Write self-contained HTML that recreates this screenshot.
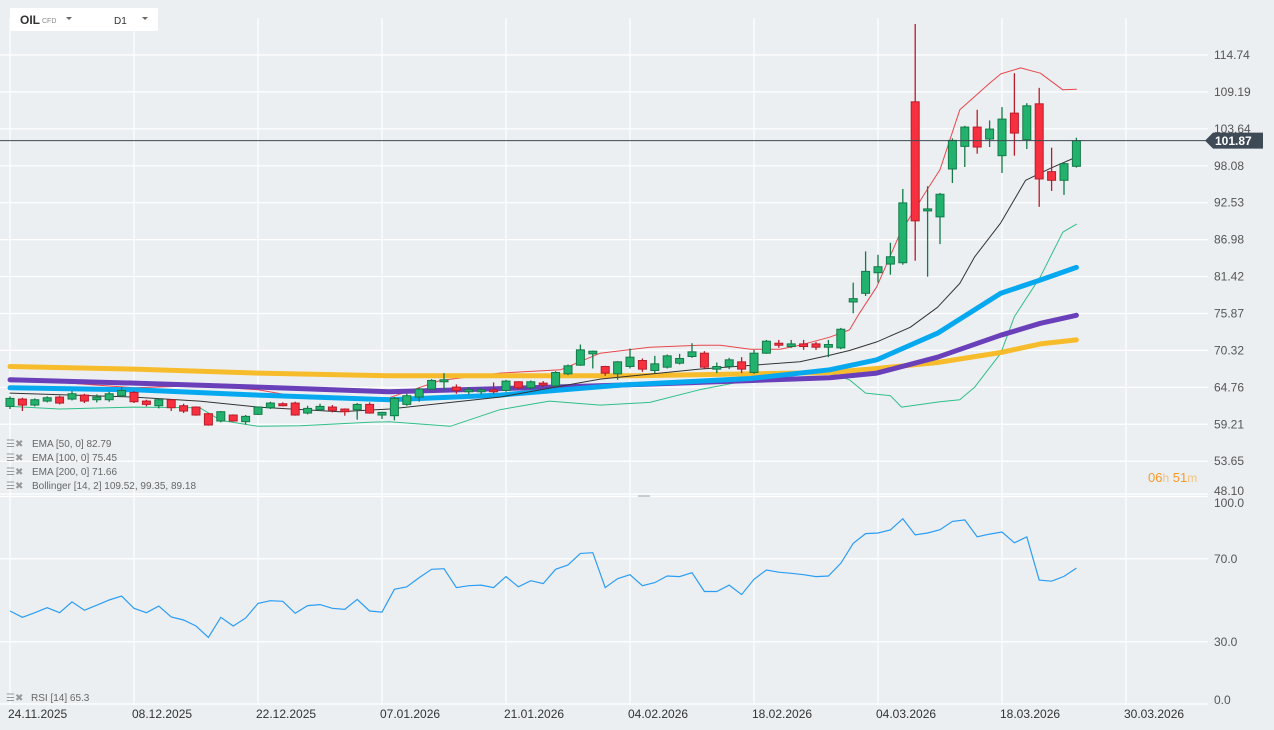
<!DOCTYPE html>
<html><head><meta charset="utf-8"><style>
html,body{margin:0;padding:0;background:#eceff2;width:1274px;height:730px;overflow:hidden;font-family:"Liberation Sans",sans-serif}
svg{display:block}
</style></head><body>
<svg id="chart" width="1274" height="730" xmlns="http://www.w3.org/2000/svg">
<rect width="1274" height="730" fill="#eceff2"/>
<g id="grid"></g>
<g id="lines"></g>
<g id="candles"></g>
<g id="rsi"></g>
<g id="axes"></g>
<g>
<rect x="10" y="8" width="148" height="23" rx="2" fill="#fff"/>
<text x="20" y="24" font-size="12" font-weight="bold" fill="#333">OIL</text>
<text x="42" y="23" font-size="7" fill="#888">CFD</text>
<path d="M66 17 l6 0 l-3 3z" fill="#666"/>
<text x="114" y="24" font-size="10" fill="#333">D1</text>
<path d="M142 17 l6 0 l-3 3z" fill="#666"/>
</g>
<g font-size="10" fill="#666">
<text x="6" y="447" fill="#999">☰✖</text><text x="32" y="447">EMA  [50,  0] 82.79</text>
<text x="6" y="461" fill="#999">☰✖</text><text x="32" y="461">EMA  [100,  0] 75.45</text>
<text x="6" y="475" fill="#999">☰✖</text><text x="32" y="475">EMA  [200,  0] 71.66</text>
<text x="6" y="489" fill="#999">☰✖</text><text x="32" y="489">Bollinger   [14,  2] 109.52,  99.35,  89.18</text>
<text x="6" y="701" fill="#999">☰✖</text><text x="31" y="701">RSI  [14]  65.3</text>
</g>
<text x="1148" y="482" font-size="13" fill="#f59a23">06<tspan fill="#f7c27a" font-size="12">h</tspan> 51<tspan fill="#f7c27a" font-size="12">m</tspan></text>
<rect x="638" y="495" width="12" height="2" fill="#c8ccd0"/>
</svg>
<script>
const candleOpen=[61.9,63.0,62.1,62.7,63.3,63.0,63.6,62.9,62.9,63.5,64.0,62.7,62.0,62.9,62.0,61.8,60.8,59.7,60.6,59.6,60.7,61.7,62.3,62.4,60.9,61.4,61.8,61.5,61.4,62.2,60.6,60.5,62.2,63.3,64.5,65.6,64.8,64.2,64.2,64.4,64.3,65.6,64.7,65.4,65.0,66.8,68.1,69.8,67.9,66.8,67.9,68.8,67.3,67.8,68.4,69.4,69.9,67.5,67.9,68.6,67.0,69.9,71.4,70.9,71.3,71.3,70.8,70.7,77.6,78.9,82.0,83.3,83.5,107.7,91.3,90.4,97.6,101.0,103.9,102.1,99.6,106.0,102.0,107.4,97.2,95.9,98.0];
const candleClose=[63.1,62.1,62.9,63.2,62.4,63.8,62.7,63.3,63.8,64.3,62.6,62.2,62.9,61.7,61.2,60.6,59.1,61.1,59.7,60.4,61.8,62.4,62.0,60.6,61.6,61.9,61.3,61.1,62.2,60.9,61.0,63.1,63.5,64.5,65.8,65.9,64.3,64.4,64.4,64.2,65.7,64.7,65.6,65.1,67.0,68.0,70.4,70.2,66.9,68.6,69.3,67.5,68.3,69.5,69.1,70.1,67.8,67.9,68.9,67.5,69.9,71.7,71.1,71.3,70.9,70.8,71.2,73.5,78.1,82.2,82.9,84.4,92.5,89.8,91.6,93.8,101.9,103.9,100.9,103.6,105.1,103.0,107.1,96.1,95.9,98.4,101.87];
const candleHigh=[63.4,63.2,63.1,63.4,63.5,64.2,63.8,63.7,64.1,64.8,64.2,62.9,63.1,63.0,62.3,61.9,60.9,61.2,60.7,60.6,61.9,62.6,62.5,62.6,62.0,62.3,62.1,61.6,62.4,62.5,61.1,63.3,63.8,64.7,66.0,66.9,65.2,64.8,64.7,65.5,65.9,65.7,65.8,65.7,67.2,68.2,71.2,70.3,68.0,68.7,70.6,69.1,69.5,69.7,69.8,71.4,70.2,68.5,69.2,69.3,70.4,71.9,71.9,71.9,71.9,71.6,71.9,73.7,80.5,85.2,84.7,86.5,94.6,119.4,95.0,94.0,102.2,104.1,106.5,104.9,106.9,112.0,107.5,109.8,100.8,98.6,102.3];
const candleLow=[61.5,61.2,61.9,62.5,62.2,62.8,62.4,62.5,62.6,63.3,62.4,61.9,61.6,61.2,60.9,60.5,59.0,59.5,59.6,59.2,60.6,61.5,61.9,60.5,60.7,61.2,61.0,60.5,59.9,60.8,60.0,59.8,62.0,62.6,64.2,64.3,63.8,63.7,63.7,63.8,64.1,64.5,64.5,64.8,64.6,66.6,68.0,67.6,66.5,65.9,67.6,67.1,66.9,67.6,68.2,69.2,67.6,66.9,67.5,66.9,66.8,69.8,70.7,70.7,70.4,70.4,69.3,70.5,75.9,78.5,80.5,81.7,83.2,83.8,81.4,86.3,95.5,97.9,99.9,100.9,97.0,99.6,100.6,91.9,94.3,93.7,97.8];
const rsiValues=[44.8,41.8,44.0,46.4,44.0,49.2,45.2,47.6,50.1,52.0,46.1,44.0,47.2,42.0,40.5,37.6,32.1,41.8,37.6,41.4,48.5,49.8,49.5,43.7,47.4,47.9,46.1,45.6,50.4,44.8,44.3,55.3,56.5,60.9,64.9,65.2,56.1,57.0,57.3,56.1,61.4,56.5,59.4,58.0,64.9,67.0,72.6,72.9,56.1,60.4,62.3,57.0,58.5,61.7,61.4,63.3,54.2,54.2,57.3,52.7,60.1,64.6,63.5,63.0,62.3,61.4,61.7,67.8,77.4,82.1,82.4,83.9,89.3,81.5,82.4,84.0,88.0,88.7,80.6,81.9,82.9,77.7,80.6,59.7,59.2,61.5,65.5];
const ema200Idx=[0,10,20,30.6,50,66.1,69.9,74.8,79.9,83.1,86];
const ema200Val=[67.9,67.5,66.9,66.5,66.5,67.0,67.6,68.5,70.0,71.3,71.9];
const ema100Idx=[0,10,20,30.6,49.2,66.1,69.9,74.8,79.9,83.1,86];
const ema100Val=[65.9,65.4,64.8,64.1,65.1,66.2,66.9,69.3,72.6,74.4,75.6];
const ema50Idx=[0,10,20,30.6,39.5,49.2,59.7,66.1,69.9,74.8,79.9,83.1,86];
const ema50Val=[64.7,64.4,63.6,62.9,63.6,65.1,66.1,67.4,68.9,72.9,78.9,80.9,82.8];
const bbMidIdx=[0,10,15.3,20,26.6,30.6,39.5,47.6,55.6,63.7,66.1,67.7,69.9,72.6,74.8,76.6,77.8,79.9,81.9,83.9,86];
const bbMidVal=[63.9,63.3,62.7,61.8,61.1,61.5,63.3,66.0,67.5,68.6,69.6,70.3,71.6,73.8,76.8,80.4,84.4,89.5,95.9,97.7,99.4];
const bbUpIdx=[0,4,10,15.3,20,23.4,30.6,34.7,39.5,44.4,47.6,51.6,55.6,57.3,59.7,62.1,63.7,66.1,67.7,68.5,69.9,71.8,73.8,75,76.6,79,79.9,81.5,83.1,84.9,86];
const bbUpVal=[65.6,65.5,64.7,65.0,64.4,63.3,63.2,65.8,66.9,67.4,69.9,70.8,71.1,71.1,70.5,70.5,71.1,72.3,73.4,75.9,79.9,88.0,94.0,97.5,106.5,110.5,111.9,112.8,112.0,109.5,109.6];
const bbLowIdx=[0,4,10,15.3,17,20,23.4,29,30.6,35.5,39.5,43.5,47.6,51.6,55.6,59.7,63.7,66.1,67.7,69,71,71.9,75,76.6,77.8,79.9,81,83.1,84.9,86];
const bbLowVal=[61.9,61.5,61.8,61.7,59.8,58.9,59.0,59.5,59.6,58.9,61.4,62.7,62.1,62.5,64.4,65.9,66.8,66.9,65.9,63.9,63.5,61.8,62.6,62.9,64.8,69.9,75.4,81.4,88.1,89.3];
const priceTicks=[114.74,109.19,103.64,98.08,92.53,86.98,81.42,75.87,70.32,64.76,59.21,53.65,48.10];
const rsiTicks=[100,70,30,0];
const dateLabels=["24.11.2025","08.12.2025","22.12.2025","07.01.2026","21.01.2026","04.02.2026","18.02.2026","04.03.2026","18.03.2026","30.03.2026"];
const dateIdx=[0,10,20,30,40,50,60,70,80,90];
const lastPrice=101.87;

const NS="http://www.w3.org/2000/svg";
const xOf=i=>10+i*12.4;
const yP=p=>55+(114.74-p)*6.65;
const yR=v=>704-v*2.075;
function mk(tag,attrs,parent){const e=document.createElementNS(NS,tag);for(const k in attrs)e.setAttribute(k,attrs[k]);parent.appendChild(e);return e;}
const grid=document.getElementById('grid'),lines=document.getElementById('lines'),cg=document.getElementById('candles'),rg=document.getElementById('rsi'),ax=document.getElementById('axes');

priceTicks.forEach(p=>{const y=Math.min(yP(p),494);const l=mk('line',{x1:0,x2:1208,y1:y,y2:y,stroke:'#fff','stroke-width':1.2},grid);


const t=mk('text',{x:1214,y:(p===48.10?495:y+4),'font-size':12,fill:'#555'},ax);t.textContent=p.toFixed(2);

});
rsiTicks.forEach(v=>{const y=yR(v);const l=mk('line',{x1:0,x2:1208,y1:y,y2:y,stroke:'#fff','stroke-width':1.2},grid);


const t=mk('text',{x:1214,y:(v===100?507:v===0?704:y+4),'font-size':12,fill:'#555'},ax);t.textContent=v.toFixed(1);

});
dateIdx.forEach((d,k)=>{const x=xOf(d);const l=mk('line',{x1:x,x2:x,y1:18,y2:705,stroke:'#fff','stroke-width':1.2},grid);


const t=mk('text',{x:x-2,y:718,'font-size':12,fill:'#333'},ax);t.textContent=dateLabels[k];

});

function poly(idx,val,color,w,name){const pts=idx.map((i,k)=>xOf(i).toFixed(1)+','+yP(val[k]).toFixed(1)).join(' ');
const e=mk('polyline',{points:pts,fill:'none',stroke:color,'stroke-width':w,'stroke-linejoin':'round','stroke-linecap':'round'},lines);

}
poly(bbLowIdx,bbLowVal,'#2fbf86',1,'bollinger-lower');
poly(bbUpIdx,bbUpVal,'#e8474c',1,'bollinger-upper');
poly(ema200Idx,ema200Val,'#f7bc2c',5,'ema-200-line');
poly(ema100Idx,ema100Val,'#6a3fba',5,'ema-100-line');
poly(ema50Idx,ema50Val,'#06a9f0',5,'ema-50-line');
poly(bbMidIdx,bbMidVal,'#333',1,'bollinger-middle');

candleOpen.forEach((o,i)=>{const c=candleClose[i],up=c>=o,x=xOf(i);
const fill=up?'#23b26e':'#f7303f',bd=up?'#137a48':'#b81d2b';
const w=mk('line',{x1:x,x2:x,y1:yP(candleHigh[i]),y2:yP(candleLow[i]),stroke:bd,'stroke-width':1.3},cg);


const top=yP(Math.max(o,c)),h=Math.max(2,Math.abs(yP(o)-yP(c)));
const b=mk('rect',{x:x-4,y:top,width:8,height:h,fill:fill,stroke:bd,'stroke-width':1},cg);

});

const ly=yP(lastPrice);
const pl=mk('line',{x1:0,x2:1206,y1:ly,y2:ly,stroke:'#3e4a55','stroke-width':1},ax);


const tag=mk('path',{d:`M1205 ${ly} l8 -8 h50 v16 h-50 z`,fill:'#3e4a55'},ax);


const tt=mk('text',{x:1215,y:ly+4.5,'font-size':12,'font-weight':'bold',fill:'#fff'},ax);tt.textContent=lastPrice.toFixed(2);



const rp=mk('polyline',{points:rsiValues.map((v,i)=>xOf(i).toFixed(1)+','+yR(v).toFixed(1)).join(' '),fill:'none',stroke:'#2a9df4','stroke-width':1.2},rg);


</script>
</body></html>
